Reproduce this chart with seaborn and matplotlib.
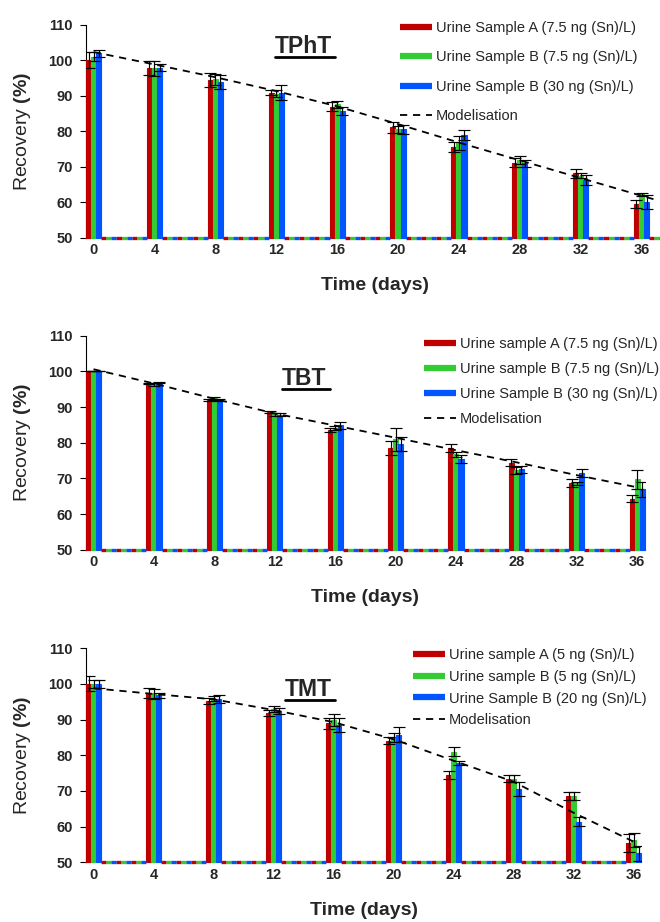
import numpy as np
import pandas as pd
import matplotlib
matplotlib.use("Agg")
import matplotlib.pyplot as plt
import seaborn as sns
from matplotlib.lines import Line2D

# ---------------- data ----------------
sampled_days = [0, 4, 8, 12, 16, 20, 24, 28, 32, 36]
days_tpht = list(range(0, 38))
days_tbt = list(range(0, 37))
days_tmt = list(range(0, 37))

series_names = ["A", "B", "B_high"]
colors = ["#C00000", "#33CC33", "#0055FF"]

# TPhT
tpht_a = [100.0, 97.9, 94.4, 90.9, 86.9, 81.1, 75.6, 71.1, 68.1, 59.5]
tpht_a_err = [2.3, 2.0, 1.9, 0.6, 1.3, 1.5, 1.4, 1.3, 1.2, 1.2]
tpht_b = [101.0, 97.7, 94.6, 90.5, 87.6, 80.5, 76.6, 71.9, 67.4, 62.2]
tpht_b_err = [1.3, 2.2, 1.5, 1.0, 1.0, 1.0, 2.0, 1.1, 0.7, 0.5]
tpht_c = [101.9, 97.9, 93.8, 90.9, 85.7, 80.5, 78.9, 71.0, 66.2, 60.1]
tpht_c_err = [1.0, 1.0, 1.9, 2.0, 1.2, 1.3, 1.3, 1.0, 1.4, 2.0]
tpht_model_days = [0, 4, 8, 12, 16, 20, 24, 28, 32, 36, 37]
tpht_model = [102.3, 98.8, 95.2, 91.3, 87.0, 82.0, 76.8, 71.8, 66.8, 61.8, 60.6]
tpht_labels = ["Urine Sample A (7.5 ng (Sn)/L)", "Urine Sample B (7.5 ng (Sn)/L)",
               "Urine Sample B (30 ng (Sn)/L)", "Modelisation"]

# TBT
tbt_a = [100.0, 96.6, 92.0, 88.5, 83.6, 78.5, 78.5, 74.4, 68.8, 64.3]
tbt_a_err = [0.0, 0.2, 0.2, 0.3, 0.6, 2.0, 1.0, 0.9, 1.1, 1.0]
tbt_b = [100.0, 96.3, 92.4, 88.0, 84.2, 80.9, 76.7, 72.3, 68.6, 69.7]
tbt_b_err = [0.0, 0.3, 0.3, 0.4, 0.5, 3.2, 0.8, 1.0, 0.5, 2.6]
tbt_c = [100.0, 96.8, 92.0, 87.9, 84.9, 79.6, 75.4, 72.5, 71.6, 66.9]
tbt_c_err = [0.0, 0.2, 0.2, 0.3, 1.0, 1.9, 1.2, 1.0, 1.1, 2.0]
tbt_model_days = [0, 4, 8, 12, 16, 20, 24, 28, 32, 36]
tbt_model = [100.6, 96.6, 92.3, 88.2, 84.8, 81.4, 77.9, 74.5, 70.9, 67.5]
tbt_labels = ["Urine sample A (7.5 ng (Sn)/L)", "Urine sample B (7.5 ng (Sn)/L)",
              "Urine Sample B (30 ng (Sn)/L)", "Modelisation"]

# TMT
tmt_a = [100.0, 97.6, 95.3, 91.8, 89.0, 84.1, 74.5, 73.4, 68.6, 55.3]
tmt_a_err = [2.1, 1.4, 0.8, 0.8, 1.5, 0.9, 1.2, 1.0, 1.2, 2.5]
tmt_b = [100.0, 97.2, 95.9, 93.0, 89.9, 85.0, 81.0, 73.4, 68.6, 56.3]
tmt_b_err = [1.0, 1.4, 0.8, 0.8, 1.8, 1.2, 1.3, 1.0, 1.2, 1.9]
tmt_c = [100.0, 96.8, 95.9, 92.5, 88.5, 85.7, 77.8, 70.5, 61.4, 52.5]
tmt_c_err = [1.0, 0.7, 1.1, 0.9, 1.9, 2.1, 0.6, 1.9, 1.3, 2.0]
tmt_model_days = [0, 4, 8, 12, 16, 20, 24, 28, 32, 36]
tmt_model = [98.8, 97.2, 95.7, 92.7, 89.3, 84.5, 78.5, 72.6, 63.9, 55.8]
tmt_labels = ["Urine sample A (5 ng (Sn)/L)", "Urine sample B (5 ng (Sn)/L)",
              "Urine Sample B (20 ng (Sn)/L)", "Modelisation"]

y_floor = 50
y_ticks = [50, 60, 70, 80, 90, 100, 110]

# ---------------- style ----------------
sns.set_style("white")
plt.rcParams["font.family"] = ["Liberation Sans", "DejaVu Sans"]
plt.rcParams["mathtext.fontset"] = "custom"
plt.rcParams["mathtext.rm"] = "Liberation Sans"
plt.rcParams["mathtext.bf"] = "Liberation Sans:bold"

W, H = 660, 922
fig = plt.figure(figsize=(W / 100, H / 100), dpi=100)


def px_axes(left, top, width, bottom):
    return fig.add_axes([left / W, 1 - bottom / H, width / W, (bottom - top) / H])


panels = [
    dict(days=days_tpht, vals=[tpht_a, tpht_b, tpht_c], errs=[tpht_a_err, tpht_b_err, tpht_c_err],
         mdays=tpht_model_days, model=tpht_model, labels=tpht_labels, title="TPhT",
         top=24.7, bottom=237.7, catw=15.22, title_x=275, title_base=53.3,
         leg_x=400, leg_top=21.0, leg_sp=1.06),
    dict(days=days_tbt, vals=[tbt_a, tbt_b, tbt_c], errs=[tbt_a_err, tbt_b_err, tbt_c_err],
         mdays=tbt_model_days, model=tbt_model, labels=tbt_labels, title="TBT",
         top=335.7, bottom=549.7, catw=15.1, title_x=282, title_base=385,
         leg_x=424, leg_top=337.0, leg_sp=0.76),
    dict(days=days_tmt, vals=[tmt_a, tmt_b, tmt_c], errs=[tmt_a_err, tmt_b_err, tmt_c_err],
         mdays=tmt_model_days, model=tmt_model, labels=tmt_labels, title="TMT",
         top=648.3, bottom=862.3, catw=15.0, title_x=285, title_base=696,
         leg_x=413, leg_top=647.8, leg_sp=0.54),
]

titles = []
for p in panels:
    days = p["days"]
    n = len(days)
    axw = n * p["catw"]
    axh = p["bottom"] - p["top"]
    ax = px_axes(86, p["top"], axw, p["bottom"])

    rows = []
    for s, vals in zip(series_names, p["vals"]):
        lookup = dict(zip(sampled_days, vals))
        for d in days:
            v = lookup.get(d, y_floor)
            rows.append(dict(day=d, series=s, height=v - y_floor))
    df = pd.DataFrame(rows)

    sns.barplot(data=df, x="day", y="height", hue="series", hue_order=series_names,
                order=days, palette=colors, width=1.0, dodge=True, gap=0,
                errorbar=None, saturation=1, bottom=y_floor, legend=False, ax=ax)

    for cont, col in zip(ax.containers, colors):
        for patch in cont.patches:
            patch.set_edgecolor(col)
            patch.set_clip_on(False)
            patch.set_zorder(3)
            if patch.get_height() == 0:
                patch.set_linewidth(2.4)
            else:
                patch.set_linewidth(0.8)

    # error bars at the bar centres
    for cont, vals, errs in zip(ax.containers, p["vals"], p["errs"]):
        xs = []
        for d in sampled_days:
            bar = cont.patches[days.index(d)]
            xs.append(bar.get_x() + bar.get_width() / 2)
        ax.errorbar(xs, vals, yerr=errs, fmt="none", ecolor="black", elinewidth=0.85,
                    capsize=4.5, capthick=0.85, zorder=4)

    sns.lineplot(x=p["mdays"], y=p["model"], ax=ax, color="black", linewidth=1.3,
                 linestyle=(0, (4, 3.2)), zorder=5)

    ax.set_xlim(-0.5, n - 0.5)
    ax.set_ylim(50, 110)
    ax.set_yticks(y_ticks)
    ax.set_yticklabels([str(t) for t in y_ticks], fontweight="bold", fontsize=10.5)
    ax.set_xticks(sampled_days)
    ax.set_xticklabels([str(d) for d in sampled_days], fontweight="bold", fontsize=10.5)
    ax.set_xticks([d - 0.5 for d in sampled_days], minor=True)
    ax.tick_params(axis="x", which="major", length=0, pad=4)
    ax.tick_params(axis="x", which="minor", length=4, width=0.8, color="black", direction="out")
    ax.tick_params(axis="y", length=4, width=0.8, color="black", direction="out", pad=5.5, left=True)
    for sp in ["top", "right"]:
        ax.spines[sp].set_visible(False)
    ax.spines["left"].set_color("black")
    ax.spines["left"].set_linewidth(0.8)
    ax.spines["bottom"].set_color("#808080")
    ax.spines["bottom"].set_linewidth(0.8)
    ax.grid(False)

    ax.set_xlabel("Time (days)", fontsize=14, fontweight="bold")
    ax.xaxis.set_label_coords(0.5, -39.5 / axh)
    ax.set_ylabel(r"Recovery $\mathbf{(\%)}$", fontsize=14)
    ax.yaxis.set_label_coords((33 - 86) / axw, 0.5)

    handles = [Line2D([0], [0], color=c, lw=4.5, solid_capstyle="butt") for c in colors]
    handles.append(Line2D([0], [0], color="black", lw=1.3, linestyle=(0, (4, 3.2))))
    fig.legend(handles, p["labels"], loc="upper left",
               bbox_to_anchor=(p["leg_x"] / W, 1 - p["leg_top"] / H),
               bbox_transform=fig.transFigure, frameon=False, fontsize=10.5,
               handlelength=2.2, handletextpad=0.27, labelspacing=p["leg_sp"],
               borderpad=0, borderaxespad=0)

    t = fig.text(p["title_x"] / W, 1 - p["title_base"] / H, p["title"], ha="left",
                 va="baseline", fontsize=16.5, fontweight="bold")
    titles.append(t)

fig.canvas.draw()
renderer = fig.canvas.get_renderer()
for t in titles:
    bb = t.get_window_extent(renderer)
    x0, x1 = bb.x0, bb.x1 + 3
    y_base = t.get_position()[1] * H - 4
    fig.add_artist(Line2D([x0 / W, x1 / W], [y_base / H, y_base / H],
                          transform=fig.transFigure, color="black", lw=2.0))

fig.savefig("out.png", dpi=100)
